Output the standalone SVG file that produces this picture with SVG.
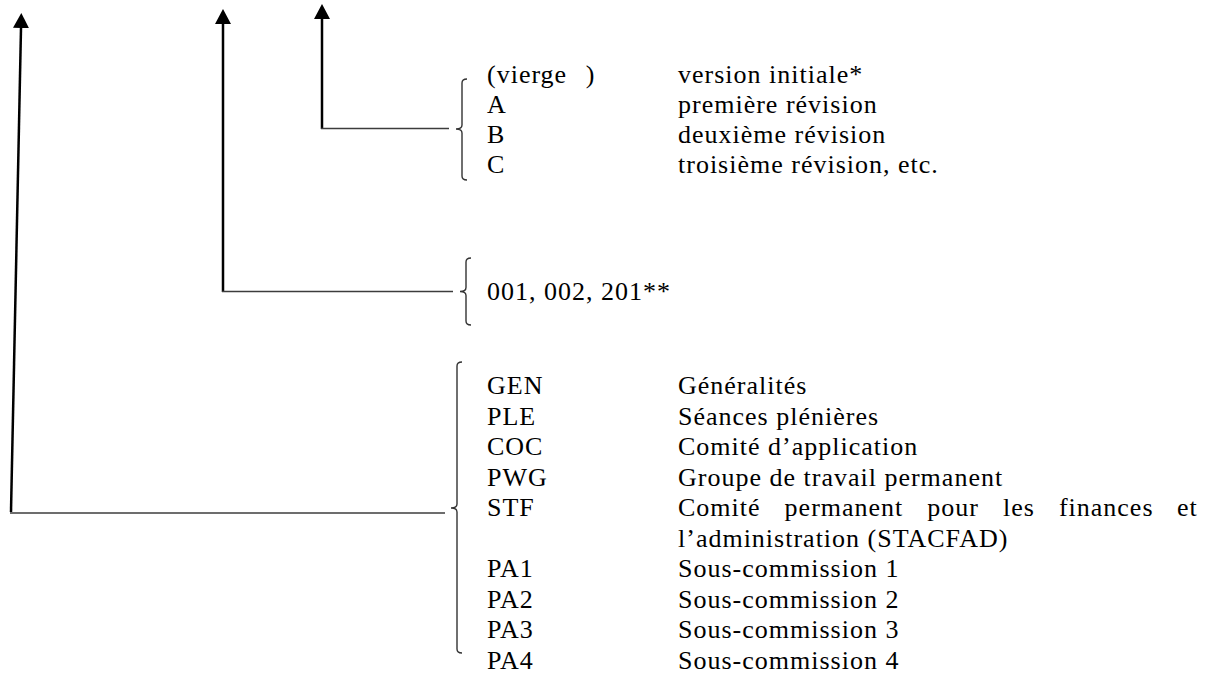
<svg xmlns="http://www.w3.org/2000/svg" width="1208" height="674" viewBox="0 0 1208 674">
<style>
text{font-family:"Liberation Serif","Times New Roman",serif;font-size:26px;fill:#000;letter-spacing:1px}
.up{stroke:#000;stroke-width:2.5;fill:none}
.hz{stroke:#3c3c3c;stroke-width:1.6;fill:none}
.br{stroke:#333;stroke-width:1.4;fill:none}
</style>
<defs>
<marker id="ah" viewBox="0 0 15 16" refX="0" refY="8" markerWidth="15" markerHeight="16" markerUnits="userSpaceOnUse" orient="auto">
<path d="M0,0 L15,8 L0,16 Z" fill="#000"/>
</marker>
</defs>
<g id="connectors">
<line class="up" x1="11" y1="512" x2="21" y2="28" marker-end="url(#ah)"/>
<line class="hz" x1="10" y1="513" x2="445" y2="513"/>
<line class="up" x1="223" y1="292" x2="223" y2="24" marker-end="url(#ah)"/>
<line class="hz" x1="222" y1="291.5" x2="453" y2="291.5"/>
<line class="up" x1="322" y1="129" x2="322" y2="19" marker-end="url(#ah)"/>
<line class="hz" x1="321" y1="128.5" x2="449" y2="128.5"/>
</g>
<g id="revision">
<path class="br" d="M467,79 Q462,79 462,83 L462,125 Q462,129 456,129 Q462,129 462,133 L462,176 Q462,180 467,180"/>
<text x="487" y="83" word-spacing="11">(vierge )</text>
<text x="487" y="113">A</text>
<text x="487" y="143">B</text>
<text x="487" y="173">C</text>
<text x="678" y="83">version initiale*</text>
<text x="678" y="113">première révision</text>
<text x="678" y="143">deuxième révision</text>
<text x="678" y="173">troisième révision, etc.</text>
</g>
<g id="numero">
<path class="br" d="M471,258 Q466,258 466,262 L466,287.5 Q466,291.5 460,291.5 Q466,291.5 466,295.5 L466,321 Q466,325 471,325"/>
<text x="487" y="300">001, 002, 201**</text>
</g>
<g id="organe">
<path class="br" d="M462,362 Q457,362 457,366 L457,504 Q457,508 451,508 Q457,508 457,512 L457,649 Q457,653 462,653"/>
<text x="487" y="394">GEN</text>
<text x="487" y="424.5">PLE</text>
<text x="487" y="455">COC</text>
<text x="487" y="485.5">PWG</text>
<text x="487" y="516">STF</text>
<text x="487" y="577">PA1</text>
<text x="487" y="607.5">PA2</text>
<text x="487" y="638">PA3</text>
<text x="487" y="668.5">PA4</text>
<text x="678" y="394">Généralités</text>
<text x="678" y="424.5">Séances plénières</text>
<text x="678" y="455">Comité d’application</text>
<text x="678" y="485.5">Groupe de travail permanent</text>
<text y="516"><tspan x="678">Comité</tspan><tspan x="784.6">permanent</tspan><tspan x="927.3">pour</tspan><tspan x="1003">les</tspan><tspan x="1058.9">finances</tspan><tspan x="1177">et</tspan></text>
<text x="678" y="546.5">l’administration (STACFAD)</text>
<text x="678" y="577">Sous-commission 1</text>
<text x="678" y="607.5">Sous-commission 2</text>
<text x="678" y="638">Sous-commission 3</text>
<text x="678" y="668.5">Sous-commission 4</text>
</g>
</svg>
